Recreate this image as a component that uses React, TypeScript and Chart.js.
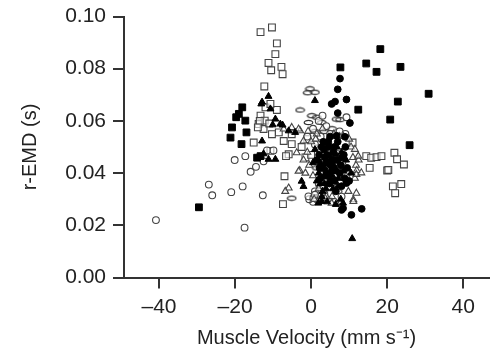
import React, { useEffect, useRef } from "react";
import { Chart, registerables } from "chart.js";

Chart.register(...registerables);

type P = [number, number];

const X_TICKS = [-40, -20, 0, 20, 40];
const Y_TICKS = [0, 0.02, 0.04, 0.06, 0.08, 0.1];
const X_TITLE = "Muscle Velocity (mm s\u207B\u00B9)";
const Y_TITLE = "r-EMD (s)";

const filledSquares: P[] = [
  [-29.5, 0.0269], [-18.1, 0.0652], [-19.0, 0.0627], [-19.7, 0.0614], [-17.3, 0.0601],
  [-20.8, 0.0575], [-21.2, 0.0536], [-17.0, 0.0556], [-18.3, 0.0511], [-14.2, 0.0459],
  [-13.3, 0.0465], [18.2, 0.0875], [14.5, 0.082], [17.2, 0.0788], [23.5, 0.0807],
  [7.7, 0.0805], [30.9, 0.0704], [22.8, 0.0674], [12.4, 0.0643], [20.8, 0.0605], [25.9, 0.0507],
];

const openSquares: P[] = [
  [-13.3, 0.094], [-10.3, 0.0958], [-9.0, 0.0897], [-9.4, 0.0856], [-11.2, 0.0822],
  [-10.5, 0.0794], [-7.8, 0.0807], [-7.5, 0.0779], [-12.3, 0.0732],
  [-12.0, 0.0652], [-9.0, 0.0642], [-10.7, 0.0665], [-13.3, 0.062], [-13.8, 0.0588],
  [-12.2, 0.0601], [-12.5, 0.0569], [-8.5, 0.0556], [-10.3, 0.0549], [-5.1, 0.0549],
  [-5.1, 0.0511], [-15.1, 0.0517], [-10.7, 0.0485], [-5.9, 0.0472], [-7.2, 0.0523],
  [-6.6, 0.0465], [-7.0, 0.0388], [-7.4, 0.0281], [-13.5, 0.06], [-14.0, 0.0575], [-11.0, 0.059],
  [-2.5, 0.05], [-1.5, 0.046], [0.0, 0.047], [-1.0, 0.053], [10.9, 0.0517],
  [14.5, 0.0465], [15.8, 0.0459], [17.2, 0.0461], [18.5, 0.0465], [15.4, 0.042],
  [20.0, 0.041], [20.3, 0.0412], [21.9, 0.0478], [22.6, 0.0453], [24.4, 0.0433],
  [21.5, 0.0349], [23.7, 0.0358], [22.1, 0.0323],
];

const openCircles: P[] = [
  [-40.8, 0.022], [-26.9, 0.0356], [-26.0, 0.0315], [-21.0, 0.0327], [-18.0, 0.0349],
  [-17.5, 0.0191], [-12.7, 0.0315], [-20.1, 0.045], [-17.3, 0.0465], [-15.9, 0.0405],
  [-14.5, 0.0424], [-11.6, 0.0487], [-9.9, 0.0487], [-12.5, 0.0445], [9.3, 0.0614],
  [0.5, 0.029], [1.5, 0.03], [2.5, 0.031], [-0.5, 0.03], [3.5, 0.032], [1.0, 0.033],
  [2.0, 0.036], [-0.7, 0.0311], [0.6, 0.0304], [1.0, 0.0317], [4.5, 0.035], [3.0, 0.044],
  [1.0, 0.051], [2.0, 0.06], [3.0, 0.062], [5.0, 0.055], [6.0, 0.052], [7.5, 0.056],
  [9.0, 0.055], [4.0, 0.058], [2.5, 0.054], [-1.0, 0.054], [0.5, 0.057], [8.0, 0.031], [6.0, 0.039],
];

const filledCircles: P[] = [
  [7.6, 0.0762], [7.0, 0.0721], [9.3, 0.0682], [5.4, 0.0665], [6.3, 0.0674], [7.0, 0.063],
  [10.2, 0.0592], [8.9, 0.0539], [10.6, 0.024], [13.3, 0.0263], [8.0, 0.0259], [9.3, 0.0362],
  [8.4, 0.0265], [4.5, 0.0517], [6.7, 0.0543],
  [3.2, 0.052], [4.5, 0.05], [5.8, 0.048], [2.1, 0.047], [6.9, 0.045], [4.0, 0.044],
  [8.2, 0.046], [3.0, 0.042], [5.5, 0.041], [7.5, 0.04], [2.5, 0.038], [6.2, 0.037],
  [8.8, 0.038], [4.8, 0.036], [9.5, 0.042], [1.5, 0.045], [7.0, 0.052], [5.0, 0.054],
  [3.8, 0.039], [6.5, 0.033], [8.0, 0.035], [10.0, 0.037], [4.2, 0.047], [9.0, 0.05], [2.8, 0.05],
  [3.6, 0.046], [5.1, 0.043], [6.4, 0.041], [7.8, 0.043], [2.2, 0.042], [4.4, 0.039],
  [5.9, 0.045], [8.6, 0.047], [3.4, 0.049], [6.1, 0.05],
];

const openTriangles: P[] = [
  [0.0, 0.052], [1.5, 0.055], [3.0, 0.057], [-1.0, 0.048], [-0.5, 0.043], [0.5, 0.039],
  [2.0, 0.034], [-1.5, 0.04], [11.0, 0.046], [11.8, 0.043], [12.0, 0.041], [11.5, 0.038],
  [12.5, 0.045], [10.5, 0.05], [9.8, 0.033], [-3.0, 0.041], [-2.0, 0.045], [0.8, 0.03],
  [4.0, 0.031], [6.0, 0.055], [7.5, 0.054], [8.5, 0.054], [10.0, 0.053], [5.5, 0.031],
  [7.0, 0.042], [3.5, 0.048], [1.2, 0.053], [-0.8, 0.056],
  [-7.2, 0.0569], [-5.1, 0.0575], [-2.9, 0.0562], [-3.8, 0.0478], [-2.0, 0.0523],
  [-3.3, 0.0569], [-5.9, 0.0343], [-6.8, 0.033], [3.7, 0.0304], [5.4, 0.0285],
  [6.7, 0.0285], [11.9, 0.0323], [11.1, 0.0298], [11.9, 0.0395], [13.2, 0.0401],
  [11.5, 0.0491], [12.4, 0.0465], [-3.3, 0.0407], [11.1, 0.0291],
];

const filledTriangles: P[] = [
  [-13.1, 0.0665], [-11.2, 0.0694], [-12.9, 0.0672], [-10.7, 0.0646], [-9.4, 0.0607],
  [-8.1, 0.0588], [-7.5, 0.0584], [-10.1, 0.0585], [-12.9, 0.0523], [-12.5, 0.0474],
  [-11.2, 0.0453], [-9.4, 0.0453], [-13.8, 0.0461], [-5.9, 0.0562], [-4.2, 0.0556],
  [1.0, 0.0678], [-2.5, 0.0369], [-2.0, 0.0349], [1.9, 0.0285], [2.8, 0.0291],
  [8.4, 0.0285], [10.8, 0.0149],
  [1.0, 0.049], [2.5, 0.044], [4.0, 0.041], [5.2, 0.046], [6.0, 0.043], [7.2, 0.038],
  [3.5, 0.036], [5.8, 0.034], [8.5, 0.041], [2.0, 0.04], [9.2, 0.045], [4.5, 0.053],
  [6.8, 0.05], [3.0, 0.033], [7.8, 0.03], [10.5, 0.04], [1.5, 0.037], [5.0, 0.038],
  [8.0, 0.048], [0.5, 0.044], [2.8, 0.031], [6.5, 0.028], [4.2, 0.029], [9.0, 0.036],
  [3.9, 0.034], [7.1, 0.035], [5.6, 0.039], [2.4, 0.036], [6.6, 0.047], [4.8, 0.044],
];

const openEllipses: P[] = [
  [-0.3, 0.0723], [1.0, 0.071], [-0.9, 0.0708], [-2.9, 0.0642], [6.7, 0.0607], [7.6, 0.0605],
  [0.2, 0.062], [1.5, 0.0614], [2.8, 0.0594], [-0.7, 0.0594], [-5.1, 0.0304], [1.0, 0.056],
  [3.5, 0.056], [5.5, 0.057], [2.0, 0.05], [4.0, 0.046], [6.5, 0.048], [8.0, 0.044],
  [3.0, 0.04], [5.5, 0.036], [7.0, 0.033], [1.5, 0.042], [9.0, 0.039], [4.5, 0.03], [2.5, 0.035],
];

const toXY = (arr: P[]) => arr.map(([x, y]) => ({ x, y }));
const FONT = "Liberation Sans, Arial, sans-serif";

export default function App() {
  const ref = useRef<HTMLCanvasElement | null>(null);

  useEffect(() => {
    document.body.style.margin = "0";
    const canvas = ref.current;
    if (!canvas) return;

    const ell = document.createElement("canvas");
    ell.width = 11;
    ell.height = 7;
    const ec = ell.getContext("2d")!;
    ec.strokeStyle = "#333";
    ec.lineWidth = 1.2;
    ec.beginPath();
    ec.ellipse(5.5, 3.5, 4.3, 2.2, 0, 0, Math.PI * 2);
    ec.stroke();

    const open = { backgroundColor: "rgba(255,255,255,0.6)", borderColor: "#444", borderWidth: 1.1 };
    const filled = { backgroundColor: "#000", borderColor: "#000", borderWidth: 1 };

    const chart = new Chart(canvas, {
      type: "scatter",
      data: {
        datasets: [
          { label: "filled triangles", data: toXY(filledTriangles), pointStyle: "triangle", pointRadius: 4, ...filled, order: 1 },
          { label: "filled circles", data: toXY(filledCircles), pointStyle: "circle", pointRadius: 3.4, ...filled, order: 2 },
          { label: "filled squares", data: toXY(filledSquares), pointStyle: "rect", pointRadius: 4.8, ...filled, order: 3 },
          { label: "open triangles", data: toXY(openTriangles), pointStyle: "triangle", pointRadius: 4, ...open, order: 4 },
          { label: "open circles", data: toXY(openCircles), pointStyle: "circle", pointRadius: 3.4, ...open, order: 5 },
          { label: "open ellipses", data: toXY(openEllipses), pointStyle: ell as any, pointRadius: 4, ...open, order: 6 },
          { label: "open squares", data: toXY(openSquares), pointStyle: "rect", pointRadius: 4.8, ...open, order: 7 },
        ] as any,
      },
      options: {
        animation: false,
        responsive: false,
        maintainAspectRatio: false,
        layout: { padding: { top: 16.5, left: 18, right: 0, bottom: 0 } },
        plugins: { legend: { display: false }, tooltip: { enabled: false } },
        scales: {
          x: {
            type: "linear",
            min: -49.2,
            max: 46.8,
            afterBuildTicks: (s: any) => { s.ticks = X_TICKS.map((v) => ({ value: v })); },
            afterFit: (s: any) => { s.height = 74.5; },
            grid: { drawOnChartArea: false, drawTicks: true, tickLength: 11, color: "#333", lineWidth: 2 },
            border: { display: true, color: "#333", width: 2 },
            ticks: {
              color: "#222",
              padding: 6,
              font: { family: FONT, size: 21 },
              callback: (v: any) => (v < 0 ? "\u2013" + Math.abs(v) : String(v)),
            },
            title: {
              display: true,
              text: X_TITLE,
              color: "#222",
              padding: { top: 2, bottom: 2 },
              font: { family: FONT, size: 20 },
            },
          },
          y: {
            type: "linear",
            min: 0,
            max: 0.1,
            afterBuildTicks: (s: any) => { s.ticks = Y_TICKS.map((v) => ({ value: v })); },
            afterFit: (s: any) => { s.width = 106; s.paddingTop = 0; s.paddingBottom = 0; },
            grid: { drawOnChartArea: false, drawTicks: true, tickLength: 11, color: "#333", lineWidth: 2 },
            border: { display: true, color: "#333", width: 2 },
            ticks: {
              color: "#222",
              padding: 7,
              font: { family: FONT, size: 21 },
              callback: (v: any) => Number(v).toFixed(2),
            },
            title: {
              display: true,
              text: Y_TITLE,
              color: "#222",
              padding: { top: 0, bottom: 6 },
              font: { family: FONT, size: 20 },
            },
          },
        },
      },
    });
    return () => chart.destroy();
  }, []);

  return (
    <div style={{ width: 495, height: 352 }}>
      <canvas ref={ref} width={495} height={352} style={{ width: 495, height: 352 }} />
    </div>
  );
}
